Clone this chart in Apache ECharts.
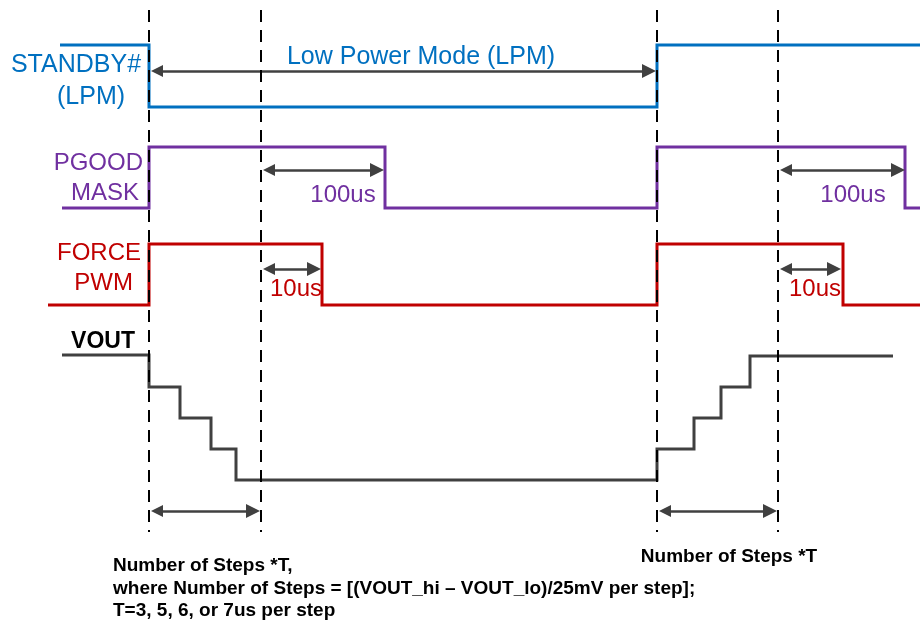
<!DOCTYPE html>
<html><head><meta charset="utf-8">
<script src="https://cdn.jsdelivr.net/npm/echarts@6/dist/echarts.min.js"></script>
<style>html,body{margin:0;padding:0;background:#fff}#c{width:920px;height:621px}</style>
</head><body><div id="c"></div>
<script>
// Diagram units: time on x, signal level on y (downward)
const markerTimes = [149, 261, 657, 778];
const markerSpan = [10, 532];

const standbyT = [60,149,149,657,657,920];
const standbyL = [45,45,107,107,45,45];
const pgoodT = [62,149,149,385,385,657,657,905,905,920];
const pgoodL = [208,208,147,147,208,208,147,147,208,208];
const pwmT = [48,149,149,322,322,657,657,843,843,920];
const pwmL = [305,305,244,244,305,305,244,244,305,305];
const voutT = [62,149,149,180,180,211,211,236,236,657,657,694,694,721,721,750,750,893];
const voutL = [355,355,387,387,418,418,449,449,480,480,449,449,418,418,387,387,356,356];

// Interval arrows (tip to tip): start time, end time, level
const arrowStart = [150,262,262,150,658,779,779];
const arrowEnd   = [656,384,321,260,777,905,841];
const arrowLevel = [71,170,269,511,511,170,269];

// Text annotations
const labelTexts = ['STANDBY#','(LPM)','Low Power Mode (LPM)','PGOOD','MASK','100us','FORCE','PWM','10us','100us','10us','VOUT',
  'Number of Steps *T,','where Number of Steps = [(VOUT_hi \u2013 VOUT_lo)/25mV per step];','T=3, 5, 6, or 7us per step','Number of Steps *T'];
const labelAnchorT = [76,91,421,143,139,343,141,133,296,853,815,103,113,113,113,729];
const labelAnchorL = [65,97,57,163,193,195,253,283,289,195,289,342,566,589,611,557];

const COL = {blue:'#0070C0', purple:'#7030A0', red:'#C00000', dark:'#404040'};
const labelStyle = [
  ['center',COL.blue,'25px'],['center',COL.blue,'25px'],['center',COL.blue,'25px'],
  ['right',COL.purple,'24px'],['right',COL.purple,'24px'],['center',COL.purple,'24px'],
  ['right',COL.red,'24px'],['right',COL.red,'24px'],['center',COL.red,'24px'],
  ['center',COL.purple,'24px'],['center',COL.red,'24px'],
  ['center','#000','bold 23px'],
  ['left','#000','bold 19px'],['left','#000','bold 19px'],['left','#000','bold 19px'],['center','#000','bold 19px']
];

const HEAD_LEN = 14, HEAD_W = 12;
const zip = (a,b)=>a.map((v,i)=>[v,b[i]]);
const chart = echarts.init(document.getElementById('c'), null, {renderer:'canvas'});

const wave = (name, T, L, color) => ({
  type:'line', name, data: zip(T,L), showSymbol:false, animation:false, z:2,
  lineStyle:{color, width:3, join:'miter'}, silent:true
});

const series = [
  wave('STANDBY#', standbyT, standbyL, COL.blue),
  wave('PGOOD MASK', pgoodT, pgoodL, COL.purple),
  wave('FORCE PWM', pwmT, pwmL, COL.red),
  wave('VOUT', voutT, voutL, COL.dark)
];
markerTimes.forEach(t => series.push({
  type:'line', data:[[t,markerSpan[0]],[t,markerSpan[1]]], showSymbol:false, animation:false, z:5, silent:true,
  lineStyle:{color:'#000', width:2, type:[12,8]}
}));

chart.setOption({
  animation:false,
  grid:{left:0,right:0,top:0,bottom:0},
  xAxis:{type:'value',min:0,max:920,show:false},
  yAxis:{type:'value',min:0,max:621,inverse:true,show:false},
  series
});

// arrows: symbols are centred on line ends, so pull the ends in by half a head in pixel space
const arrowData = arrowStart.map((s,i)=>{
  const a = chart.convertToPixel({gridIndex:0},[s,arrowLevel[i]]);
  const b = chart.convertToPixel({gridIndex:0},[arrowEnd[i],arrowLevel[i]]);
  const dir = Math.sign(b[0]-a[0]);
  const a2 = chart.convertFromPixel({gridIndex:0},[a[0]+dir*HEAD_LEN/2,a[1]]);
  const b2 = chart.convertFromPixel({gridIndex:0},[b[0]-dir*HEAD_LEN/2,b[1]]);
  return {coords:[a2,b2]};
});
series.push({
  type:'lines', coordinateSystem:'cartesian2d', animation:false, z:4, silent:true,
  symbol:['triangle','triangle'], symbolSize:[HEAD_W,HEAD_LEN],
  lineStyle:{color:COL.dark, width:2.5, opacity:1},
  itemStyle:{color:COL.dark},
  data: arrowData
});

const graphics = labelTexts.map((txt,i)=>{
  const p = chart.convertToPixel({gridIndex:0},[labelAnchorT[i],labelAnchorL[i]]);
  const st = labelStyle[i];
  return {type:'text', x:p[0], y:p[1], z:10, silent:true,
    style:{text:txt, align:st[0], verticalAlign:'middle', fill:st[1],
      font: st[2] + ' "Liberation Sans", Arial, sans-serif'}};
});
chart.setOption({series, graphic:graphics});
</script></body></html>
